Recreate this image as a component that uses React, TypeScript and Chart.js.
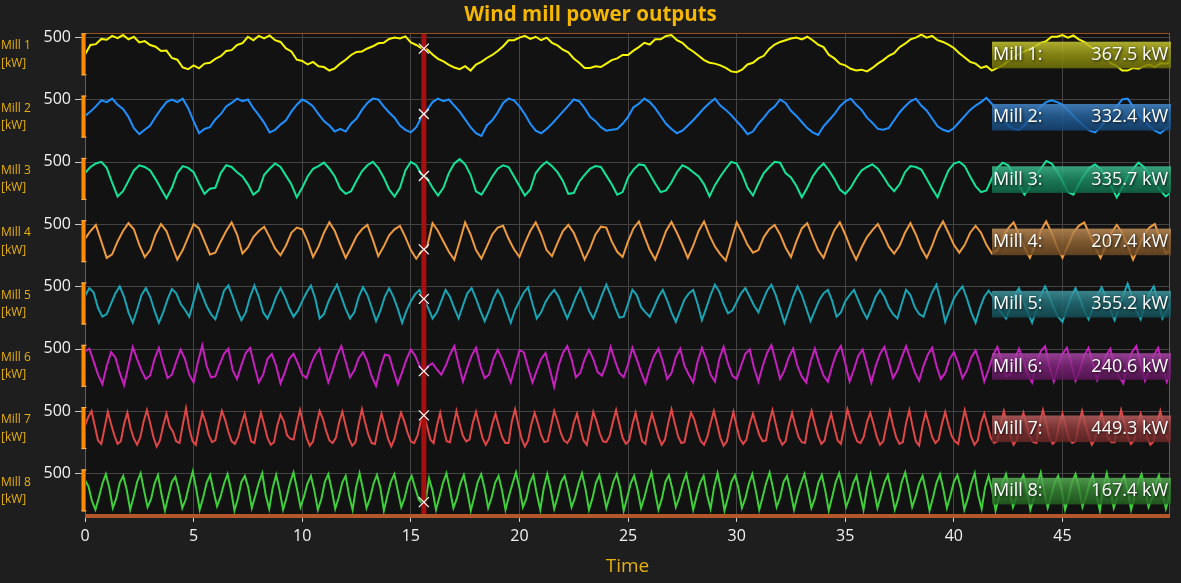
import React, { useEffect, useRef } from 'react';
import { Chart, registerables } from 'chart.js';

Chart.register(...registerables);

// ---------------- data ----------------
const TITLE = 'Wind mill power outputs';
const X_TITLE = 'Time';
const X_TICKS = [0, 5, 10, 15, 20, 25, 30, 35, 40, 45];
const X_MIN = 0;
const X_MAX = 49.95;
const MILL_NAMES = ['Mill 1', 'Mill 2', 'Mill 3', 'Mill 4', 'Mill 5', 'Mill 6', 'Mill 7', 'Mill 8'];
const UNIT = 'kW';
const Y_TICK = 500;
const MILL_COLORS = ['#f7f700', '#1e90ff', '#12e598', '#ee9a3e', '#18a6b6', '#c71fc0', '#e04646', '#3ecf3a'];
const CURSOR_X = 15.6;
const CURSOR_VALUES = [367.5, 332.4, 335.7, 207.4, 355.2, 240.6, 449.3, 167.4];
// sampling interval (s) of each mill's record
const STEPS = [0.25, 0.25, 0.25, 0.25, 0.2, 0.2, 0.15, 0.16];

const MILL_1 = [
  300, 410, 420, 480, 470, 515, 490, 525, 475, 505, 440, 455, 410, 390, 340, 345, 260, 240, 150, 130,
  175, 140, 195, 205, 250, 280, 340, 350, 410, 430, 505, 465, 515, 485, 520, 465, 445, 370, 335, 240,
  225, 185, 215, 165, 155, 115, 140, 195, 240, 295, 330, 335, 370, 395, 430, 435, 480, 495, 485, 510,
  440, 410, 372, 360, 300, 250, 220, 180, 150, 130, 165, 115, 185, 215, 260, 295, 340, 395, 465, 465,
  495, 515, 480, 505, 465, 495, 435, 405, 355, 325, 255, 205, 145, 145, 165, 155, 195, 235, 255, 295,
  295, 345, 385, 435, 415, 475, 475, 515, 525, 465, 435, 375, 335, 285, 235, 205, 195, 175, 145, 105,
  95, 125, 185, 205, 255, 285, 365, 415, 445, 465, 485, 495, 475, 505, 465, 415, 385, 295, 255, 195,
  175, 135, 115, 125, 105, 145, 195, 235, 285, 315, 385, 425, 475, 495, 530, 495, 515, 465, 445, 415,
  375, 315, 265, 215, 195, 145, 165, 115, 145, 175, 225, 265, 305, 335, 365, 395, 435, 455, 505, 505,
  525, 495, 520, 475, 445, 395, 355, 295, 255, 195, 165, 115, 115, 145, 135, 165, 185, 155, 195, 195,
  210,
];

const MILL_2 = [
  310, 360, 420, 490, 470, 510, 440, 390, 300, 170, 100, 150, 200, 300, 390, 470, 500, 470, 510, 400,
  250, 110, 160, 180, 270, 330, 420, 460, 510, 480, 500, 400, 320, 230, 120, 150, 210, 260, 360, 440,
  500, 470, 420, 330, 250, 200, 130, 160, 130, 220, 280, 380, 460, 510, 500, 420, 350, 290, 200, 150,
  120, 180, 300, 380, 470, 510, 480, 500, 430, 360, 270, 180, 110, 80, 200, 260, 350, 460, 510, 490,
  420, 330, 220, 140, 110, 160, 220, 290, 360, 430, 500, 480, 400, 300, 250, 180, 140, 150, 160, 220,
  300, 410, 450, 510, 470, 400, 310, 220, 160, 110, 140, 200, 260, 330, 400, 460, 510, 430, 380, 320,
  250, 180, 100, 130, 220, 290, 370, 420, 500, 460, 370, 310, 240, 170, 120, 90, 190, 260, 330, 420,
  480, 510, 440, 380, 290, 230, 160, 150, 170, 260, 350, 420, 480, 510, 430, 370, 280, 190, 150, 130,
  170, 240, 310, 380, 430, 470, 520, 450, 380, 290, 200, 160, 150, 200, 280, 350, 420, 470, 490, 470,
  440, 380, 310, 250, 190, 140, 120, 180, 260, 330, 420, 500, 510, 420, 330, 260, 190, 140, 110, 160,
  200,
];

const MILL_3 = [
  370, 440, 480, 500, 430, 260, 100, 160, 280, 400, 460, 440, 400, 300, 190, 80, 200, 370, 450, 430,
  380, 250, 130, 190, 200, 370, 460, 440, 380, 330, 240, 120, 170, 350, 420, 480, 440, 340, 240, 90,
  200, 330, 420, 450, 490, 420, 330, 190, 130, 160, 280, 390, 460, 500, 430, 320, 180, 100, 200, 400,
  500, 460, 350, 310, 200, 110, 200, 370, 480, 530, 470, 350, 160, 120, 220, 330, 420, 460, 440, 330,
  220, 110, 180, 370, 450, 500, 450, 380, 280, 130, 140, 270, 350, 420, 450, 440, 340, 240, 120, 150,
  320, 410, 470, 460, 360, 250, 150, 170, 260, 380, 460, 430, 380, 330, 240, 100, 230, 330, 420, 500,
  480, 360, 200, 110, 250, 370, 440, 500, 490, 370, 320, 220, 90, 200, 330, 420, 480, 400, 300, 180,
  130, 200, 310, 400, 440, 470, 420, 330, 230, 160, 240, 380, 450, 440, 410, 300, 190, 90, 250, 400,
  480, 500, 450, 330, 220, 150, 170, 310, 430, 490, 460, 350, 230, 120, 210, 330, 420, 510, 480, 390,
  280, 150, 120, 240, 350, 430, 470, 420, 320, 210, 90, 200, 330, 420, 490, 440, 350, 260, 170, 100,
  150,
];

const MILL_4 = [
  330, 420, 490, 300, 110, 150, 300, 420, 510, 440, 260, 120, 200, 380, 500, 420, 250, 90, 200, 350,
  500, 450, 300, 150, 170, 300, 420, 520, 380, 160, 230, 350, 420, 470, 350, 220, 140, 250, 400, 460,
  440, 300, 120, 240, 400, 520, 420, 260, 110, 230, 360, 440, 490, 320, 130, 240, 370, 440, 480, 350,
  200, 100, 190, 240, 510, 420, 300, 180, 90, 300, 520, 380, 200, 100, 240, 380, 460, 480, 330, 210,
  120, 280, 420, 520, 380, 200, 130, 280, 420, 490, 400, 250, 90, 220, 380, 470, 460, 300, 180, 120,
  300, 450, 530, 360, 200, 90, 250, 420, 525, 400, 260, 110, 250, 420, 530, 370, 240, 150, 80, 300,
  520, 400, 260, 170, 200, 350, 440, 490, 380, 230, 120, 300, 450, 510, 350, 200, 110, 280, 430, 520,
  380, 220, 90, 230, 350, 430, 500, 380, 240, 160, 250, 400, 510, 380, 220, 110, 250, 420, 530, 400,
  260, 170, 260, 400, 480, 400, 260, 160, 200, 350, 450, 520, 380, 230, 110, 260, 420, 530, 400, 240,
  110, 250, 400, 480, 520, 380, 230, 110, 250, 400, 490, 400, 250, 90, 230, 380, 460, 500, 330, 160,
  200,
];

const MILL_5 = [
  390, 480, 430, 250, 150, 180, 300, 420, 500, 380, 200, 80, 230, 400, 480, 380, 220, 80, 200, 350, 470, 420, 300, 230, 150,
  330, 520, 400, 270, 180, 120, 280, 450, 510, 380, 230, 110, 200, 380, 510, 380, 200, 130, 240, 380, 480, 380, 250, 150, 220,
  330, 430, 510, 360, 130, 180, 320, 430, 520, 380, 240, 130, 200, 380, 490, 400, 250, 100, 220, 380, 480, 380, 240, 80, 220,
  330, 410, 460, 355, 250, 130, 200, 330, 460, 380, 250, 130, 280, 420, 480, 360, 220, 100, 220, 360, 460, 370, 220, 80, 230,
  330, 430, 490, 300, 130, 200, 320, 400, 460, 380, 250, 130, 250, 380, 480, 360, 220, 130, 260, 400, 520, 400, 260, 140, 150,
  300, 460, 400, 260, 200, 150, 260, 380, 460, 340, 200, 90, 220, 350, 420, 460, 300, 110, 250, 400, 520, 440, 300, 190, 220,
  320, 420, 480, 380, 280, 200, 330, 450, 520, 400, 240, 80, 230, 380, 500, 400, 250, 100, 220, 340, 420, 460, 330, 150, 200,
  330, 400, 460, 340, 220, 130, 250, 380, 460, 380, 260, 180, 130, 300, 460, 400, 260, 180, 150, 300, 430, 520, 330, 90, 230,
  360, 440, 500, 360, 200, 80, 250, 380, 450, 380, 260, 190, 130, 260, 400, 480, 330, 200, 80, 230, 400, 500, 380, 250, 150,
  90, 240, 380, 480, 360, 220, 120, 250, 390, 490, 380, 230, 110, 250, 400, 530, 380, 220, 120, 280, 420, 500, 330, 130, 230,
  350,
];

const MILL_6 = [
  470, 500, 350, 200, 90, 300, 460, 400, 220, 80, 300, 520, 380, 250, 150, 190, 380, 510, 330, 160, 200, 350, 490, 380, 200,
  110, 350, 540, 300, 170, 180, 320, 440, 500, 250, 150, 310, 450, 510, 300, 110, 200, 380, 440, 300, 100, 230, 380, 440, 330,
  200, 160, 320, 430, 500, 300, 110, 250, 420, 530, 350, 170, 250, 390, 460, 350, 180, 70, 280, 430, 420, 250, 90, 230, 380,
  490, 420, 300, 240, 300, 330, 260, 200, 300, 430, 530, 320, 120, 280, 420, 510, 300, 160, 200, 380, 490, 380, 250, 110, 300,
  480, 460, 280, 110, 250, 380, 450, 260, 60, 300, 450, 530, 380, 170, 220, 380, 490, 380, 230, 190, 320, 520, 360, 220, 170,
  320, 510, 380, 230, 100, 280, 420, 500, 350, 150, 220, 400, 500, 300, 200, 110, 350, 510, 380, 200, 120, 380, 520, 330, 190,
  150, 300, 440, 490, 280, 120, 300, 450, 540, 350, 150, 250, 400, 500, 300, 180, 110, 350, 500, 330, 190, 120, 300, 450, 530,
  330, 120, 260, 420, 490, 300, 110, 300, 440, 520, 350, 160, 250, 400, 530, 380, 230, 130, 300, 430, 510, 300, 150, 220, 380,
  460, 330, 160, 250, 400, 480, 330, 120, 260, 420, 520, 360, 180, 200, 380, 500, 360, 200, 110, 330, 470, 530, 300, 120, 300,
  440, 510, 330, 130, 250, 420, 510, 330, 140, 280, 420, 500, 300, 180, 100, 330, 460, 530, 330, 130, 260, 420, 510, 320, 120,
  250,
];

const MILL_7 = [
  330, 430,
  500, 330, 160, 120, 300,
  490, 350, 220, 120, 150, 350,
  480, 300, 180, 110, 200, 380,
  510, 360, 200, 90, 160, 330,
  470, 320, 260, 150, 130, 340,
  530, 300, 150, 110, 310,
  480, 370, 220, 140, 160, 340,
  500, 400, 260, 150, 120, 200, 350,
  470, 300, 150, 130, 320,
  480, 340, 190, 110, 140, 330,
  460, 380, 220, 180, 170, 350,
  510, 350, 190, 100, 150, 340,
  500, 410, 270, 160, 130, 190, 370,
  490, 330, 180, 100, 140, 350,
  520, 360, 220, 130, 120, 310,
  470, 330, 180, 90, 180, 350,
  480, 380, 250, 150, 130, 210, 370,
  450, 320, 170, 130, 330,
  480, 300, 150, 140, 320,
  500, 350, 210, 150, 170, 360,
  490, 340, 190, 110, 180, 350,
  470, 330, 200, 130, 130, 380,
  520, 340, 180, 90, 160, 350,
  480, 360, 220, 140, 150, 320,
  500, 390, 250, 160, 130, 190, 360,
  470, 310, 160, 110, 300,
  490, 380, 240, 150, 140, 210, 370,
  510, 350, 190, 120, 160, 340,
  480, 310, 150, 120, 330,
  470, 340, 200, 110, 170, 360,
  520, 360, 210, 130, 140, 330,
  480, 400, 260, 150, 110, 200, 360,
  500, 350, 190, 100, 150, 340,
  490, 320, 180, 120, 170, 350,
  470, 340, 220, 150, 160, 370,
  510, 350, 190, 110, 150, 340,
  480, 330, 200, 140, 130, 360,
  500, 350, 210, 120, 160, 340,
  470, 310, 160, 120, 310,
  520, 390, 250, 150, 130, 200, 370,
  480, 350, 200, 110, 150, 340,
  500, 330, 190, 120, 140, 360,
  510, 320, 150, 100, 320,
  480, 350, 200, 130, 170, 350,
  490, 340, 210, 150, 120, 330,
  510, 360, 200, 110, 160, 360,
  470, 330, 190, 130, 150, 340,
  500, 350, 210, 110, 170, 350,
  480, 340, 200, 140, 130, 360,
  510, 360, 190, 120, 160, 340,
  470, 320, 180, 130, 150, 350,
  500, 350, 220, 110, 170, 360,
  480, 330, 190, 140, 140, 340,
  510, 360, 200, 120, 160, 350,
  470, 340, 190, 110, 150, 360,
  500, 350, 200, 130,
];

const MILL_8 = [
  420, 350, 180, 80, 220, 380,
  490, 330, 100, 210, 390,
  470, 310, 80, 230, 400,
  500, 300, 110, 200, 380,
  480, 260, 70, 240, 400,
  460, 300, 100, 200, 370,
  520, 320, 80, 220, 390,
  480, 290, 120, 230, 380,
  490, 310, 70, 210, 400,
  470, 330, 100, 240, 390,
  500, 250, 90, 330,
  480, 300, 80, 220, 390,
  510, 320, 110, 230, 380,
  470, 300, 80, 200, 400,
  490, 310, 90, 220, 390,
  470, 240, 80, 340,
  500, 310, 100, 210, 380,
  480, 330, 70, 240, 400,
  490, 300, 110, 220, 390,
  470, 330, 200, 150, 185,
  440, 300, 80, 230, 390,
  500, 310, 100, 210, 380,
  480, 290, 70, 230, 400,
  490, 320, 100, 220, 390,
  470, 300, 80, 240, 380,
  510, 330, 110, 210, 390,
  480, 260, 80, 330,
  490, 310, 90, 230, 400,
  470, 300, 110, 220, 380,
  500, 320, 80, 210, 390,
  480, 300, 100, 240, 400,
  490, 330, 70, 220, 380,
  470, 310, 100, 230, 390,
  510, 290, 80, 210, 400,
  480, 320, 110, 220, 380,
  490, 300, 80, 240, 390,
  470, 250, 90, 340,
  500, 310, 70, 220, 400,
  480, 330, 100, 210, 380,
  490, 300, 80, 230, 390,
  510, 320, 110, 220, 400,
  470, 290, 80, 240, 380,
  490, 310, 100, 210, 390,
  480, 300, 70, 230, 400,
  500, 330, 110, 220, 380,
  470, 260, 80, 330,
  490, 310, 100, 240, 390,
  480, 300, 80, 210, 400,
  510, 320, 110, 230, 380,
  470, 290, 70, 220, 390,
  490, 310, 100, 240, 400,
  480, 330, 80, 210, 380,
  500, 250, 90, 340,
  470, 310, 70, 230, 390,
  490, 300, 110, 220, 400,
  480, 320, 80, 210, 380,
  510, 290, 100, 240, 390,
  470, 310, 80, 220, 400,
  490, 330, 110, 230, 380,
  480, 260, 70, 340,
  500, 310, 100, 220, 390,
  470, 300, 80, 240, 400,
  490, 320, 110, 210, 380,
  480, 300, 90, 230,
];

const SERIES = [MILL_1, MILL_2, MILL_3, MILL_4, MILL_5, MILL_6, MILL_7, MILL_8];

// ---------------- layout / style ----------------
const W = 1181;
const H = 583;
const FONT = '"Open Sans", "Noto Sans", "DejaVu Sans", sans-serif';
const PAD = { left: 85, right: 11, top: 33 };
const X_AXIS_H = 67;
const PLOT_H = H - PAD.top - X_AXIS_H;
const ROW_MIN = 60;
const ROW_MAX = 545;
const ROW_BAND_PX = 42;
const ROW_PITCH_PX = 62.3;
const ROW_OFFSET_PX = 0.3;
const BG = '#1e1e1e';
const PLOT_BG = '#121212';
const GRID = '#444444';
const GOLD = '#e8b00f';

function rowRange(k: number) {
  const upp = (ROW_MAX - ROW_MIN) / ROW_BAND_PX;
  const max = ROW_MAX + (ROW_OFFSET_PX + k * ROW_PITCH_PX) * upp;
  return { min: max - PLOT_H * upp, max };
}

function hexRgb(hex: string) {
  const n = parseInt(hex.slice(1), 16);
  return [(n >> 16) & 255, (n >> 8) & 255, n & 255];
}
function rgba(c: number[], a: number) {
  return `rgba(${Math.round(c[0])},${Math.round(c[1])},${Math.round(c[2])},${a})`;
}

const decorPlugin = {
  id: 'decor',
  beforeDraw(chart: any) {
    const { ctx, chartArea: a } = chart;
    ctx.save();
    ctx.fillStyle = BG;
    ctx.fillRect(0, 0, chart.width, chart.height);
    ctx.fillStyle = PLOT_BG;
    ctx.fillRect(a.left, a.top, a.right - a.left, a.bottom - a.top);
    ctx.restore();
  },
  beforeDatasetsDraw(chart: any) {
    const { ctx, chartArea: a } = chart;
    ctx.save();
    ctx.strokeStyle = GRID;
    ctx.lineWidth = 1;
    for (let k = 0; k < SERIES.length; k++) {
      const y = Math.round(chart.scales['y' + k].getPixelForValue(Y_TICK)) + 0.5;
      ctx.beginPath();
      ctx.moveTo(a.left, y);
      ctx.lineTo(a.right, y);
      ctx.stroke();
    }
    ctx.restore();
  },
  afterDatasetsDraw(chart: any) {
    const { ctx, chartArea: a } = chart;
    const xs = chart.scales.x;
    ctx.save();

    // cursor
    const cx = xs.getPixelForValue(CURSOR_X);
    ctx.fillStyle = '#a80f0f';
    ctx.fillRect(cx - 2.5, a.top, 5, a.bottom - a.top);

    // markers
    ctx.strokeStyle = '#ffffff';
    ctx.lineWidth = 1.2;
    for (let k = 0; k < SERIES.length; k++) {
      const py = chart.scales['y' + k].getPixelForValue(CURSOR_VALUES[k]);
      ctx.beginPath();
      ctx.moveTo(cx - 5, py - 5);
      ctx.lineTo(cx + 5, py + 5);
      ctx.moveTo(cx + 5, py - 5);
      ctx.lineTo(cx - 5, py + 5);
      ctx.stroke();
    }

    // plot border
    ctx.strokeStyle = '#9c4e18';
    ctx.lineWidth = 1;
    ctx.strokeRect(a.left + 0.5, a.top + 0.5, a.right - a.left - 1, a.bottom - a.top - 1);

    // bottom axis bar
    ctx.fillStyle = '#b4582c';
    ctx.fillRect(a.left, a.bottom - 2, a.right - a.left, 4);

    // rows: value boxes, y axis decorations, labels
    for (let k = 0; k < SERIES.length; k++) {
      const ys = chart.scales['y' + k];
      const top = ys.getPixelForValue(ROW_MAX);
      const bottom = ys.getPixelForValue(ROW_MIN);
      const c = hexRgb(MILL_COLORS[k]);

      // value box
      const bx = 992;
      const bw = a.right + 1 - bx;
      const bt = top + 8.4;
      const bh = 26.6;
      const g = ctx.createLinearGradient(0, bt, 0, bt + bh);
      g.addColorStop(0, rgba(c.map((v) => v * 0.6 + 255 * 0.2), 0.85));
      g.addColorStop(0.5, rgba(c.map((v) => v * 0.55 + 255 * 0.08), 0.8));
      g.addColorStop(1, rgba(c.map((v) => v * 0.42 + 255 * 0.03), 0.85));
      ctx.fillStyle = g;
      ctx.fillRect(bx, bt, bw, bh);

      ctx.save();
      ctx.shadowColor = 'rgba(0,0,0,0.85)';
      ctx.shadowBlur = 3;
      ctx.shadowOffsetX = 1;
      ctx.shadowOffsetY = 1;
      ctx.fillStyle = '#ffffff';
      ctx.font = `18px ${FONT}`;
      ctx.textBaseline = 'middle';
      ctx.textAlign = 'left';
      ctx.fillText(`${MILL_NAMES[k]}:`, bx + 1, bt + bh / 2);
      ctx.textAlign = 'right';
      ctx.fillText(`${CURSOR_VALUES[k].toFixed(1)} ${UNIT}`, a.right - 2, bt + bh / 2);
      ctx.restore();

      // axis bar
      ctx.fillStyle = '#ff8c00';
      ctx.fillRect(81.5, top, 3.5, bottom - top);
      ctx.fillStyle = '#ffb35c';
      ctx.fillRect(81.5, top, 5, 1);
      ctx.fillRect(81.5, bottom - 1, 5, 1);

      // tick
      const ty = ys.getPixelForValue(Y_TICK);
      ctx.strokeStyle = '#c8c8c8';
      ctx.lineWidth = 1;
      ctx.beginPath();
      ctx.moveTo(75, Math.round(ty) + 0.5);
      ctx.lineTo(81.5, Math.round(ty) + 0.5);
      ctx.stroke();
      ctx.fillStyle = '#f2f2f2';
      ctx.font = `16px ${FONT}`;
      ctx.textAlign = 'right';
      ctx.textBaseline = 'middle';
      ctx.fillText(String(Y_TICK), 71, ty);

      // axis title
      ctx.fillStyle = GOLD;
      ctx.font = `12px ${FONT}`;
      ctx.textAlign = 'left';
      ctx.fillText(MILL_NAMES[k], 1, top + 12.7);
      ctx.fillText(`[${UNIT}]`, 1, top + 30);
    }

    // title
    ctx.fillStyle = '#f5b700';
    ctx.font = `bold 20.5px ${FONT}`;
    ctx.textAlign = 'center';
    ctx.textBaseline = 'middle';
    ctx.fillText(TITLE, W / 2, 15);

    ctx.restore();
  },
};

export default function App() {
  const ref = useRef<HTMLCanvasElement>(null);

  useEffect(() => {
    document.body.style.margin = '0';
    document.body.style.background = BG;

    const datasets: any[] = SERIES.map((vals, k) => ({
      type: 'line',
      label: MILL_NAMES[k],
      data: vals.map((v, i) => ({ x: i * STEPS[k], y: v })),
      borderColor: MILL_COLORS[k],
      backgroundColor: MILL_COLORS[k],
      borderWidth: 2,
      pointRadius: 0,
      tension: 0,
      yAxisID: 'y' + k,
    }));

    const scales: any = {
      x: {
        type: 'linear',
        min: X_MIN,
        max: X_MAX,
        afterBuildTicks: (sc: any) => {
          sc.ticks = X_TICKS.map((v) => ({ value: v }));
        },
        afterFit: (sc: any) => {
          sc.height = X_AXIS_H;
        },
        ticks: {
          color: '#f2f2f2',
          font: { family: FONT, size: 16 },
          padding: 5,
          maxRotation: 0,
        },
        grid: {
          color: GRID,
          tickColor: '#d0d0d0',
          tickLength: 6,
          lineWidth: 1,
        },
        border: { display: false },
        title: {
          display: true,
          text: X_TITLE,
          color: GOLD,
          font: { family: FONT, size: 19 },
          padding: { top: 0, bottom: 5 },
        },
      },
    };
    SERIES.forEach((_, k) => {
      const r = rowRange(k);
      scales['y' + k] = {
        type: 'linear',
        display: false,
        position: 'left',
        bounds: 'data',
        min: r.min,
        max: r.max,
      };
    });

    const chart = new Chart(ref.current as HTMLCanvasElement, {
      type: 'line',
      data: { datasets },
      options: {
        animation: false,
        responsive: false,
        maintainAspectRatio: false,
        layout: { padding: { left: PAD.left, right: PAD.right, top: PAD.top, bottom: 0 } },
        plugins: {
          legend: { display: false },
          tooltip: { enabled: false },
          title: { display: false },
        },
        events: [],
        scales,
      },
      plugins: [decorPlugin],
    } as any);

    return () => chart.destroy();
  }, []);

  return (
    <div style={{ width: W, height: H, background: BG }}>
      <canvas ref={ref} width={W} height={H} style={{ display: 'block' }} />
    </div>
  );
}
